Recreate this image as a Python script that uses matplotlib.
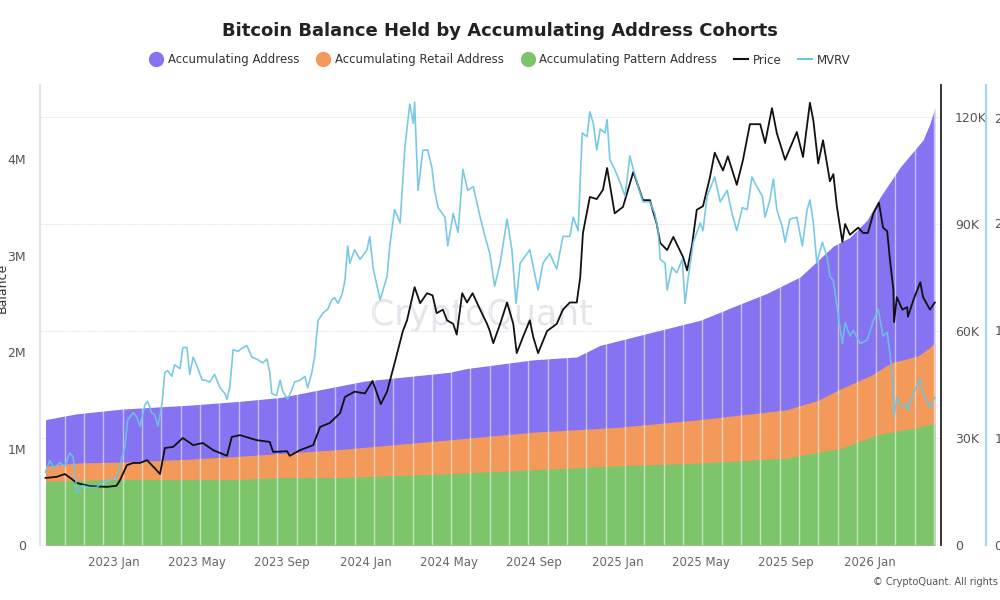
import pandas as pd
import matplotlib.pyplot as plt
import matplotlib.dates as mdates
from matplotlib.lines import Line2D

# Veriler: gün = 2023-01-01'den itibaren gün sayısı
base = pd.Timestamp("2023-01-01")

acc_days = [-99, -54, 13, 110, 183, 242, 328, 364, 486, 512, 608, 671, 705, 777, 850,
            898, 947, 995, 1043, 1067, 1092, 1111, 1140, 1173, 1183, 1190]
acc_bal = [1.30, 1.36, 1.41, 1.45, 1.49, 1.53, 1.65, 1.70, 1.79, 1.83, 1.92, 1.95, 2.07, 2.20, 2.33,
           2.47, 2.61, 2.78, 3.10, 3.19, 3.37, 3.61, 3.92, 4.20, 4.37, 4.53]

retail_days = [-99, -54, 13, 110, 183, 328, 486, 608, 731, 850, 974, 1021, 1054, 1098, 1127, 1166, 1183, 1190]
retail_bal = [0.82, 0.85, 0.86, 0.89, 0.92, 0.99, 1.09, 1.17, 1.22, 1.30, 1.40, 1.50, 1.62, 1.76, 1.89, 1.96, 2.05, 2.10]

pattern_days = [-99, 13, 183, 241, 328, 486, 608, 731, 850, 974, 1053, 1098, 1118, 1166, 1190]
pattern_bal = [0.66, 0.68, 0.68, 0.70, 0.70, 0.74, 0.78, 0.82, 0.85, 0.90, 1.00, 1.12, 1.16, 1.22, 1.26]

price_days = [-99, -83, -71, -59, -54, -35, -10, 4, 9, 19, 28, 38, 48, 59, 67, 74, 86, 100, 115, 129,
              144, 164, 171, 183, 207, 226, 231, 251, 255, 270, 289, 299, 313, 328, 335, 349, 364, 375,
              387, 396, 407, 419, 425, 436, 444, 454, 462, 468, 477, 483, 492, 497, 505, 512, 520, 531,
              541, 545, 550, 560, 570, 579, 584, 593, 603, 608, 615, 628, 642, 651, 661, 671, 676, 680,
              690, 700, 709, 715, 726, 738, 753, 767, 777, 787, 792, 802, 811, 825, 831, 838, 845, 854,
              864, 871, 883, 890, 903, 912, 922, 937, 944, 954, 961, 973, 990, 999, 1009, 1014, 1021,
              1028, 1038, 1043, 1048, 1056, 1060, 1067, 1079, 1086, 1093, 1101, 1109, 1115, 1121, 1125,
              1130, 1131, 1135, 1143, 1150, 1151, 1159, 1169, 1173, 1183, 1190]
price = [18.8, 19.1, 19.9, 18.2, 17.4, 16.5, 16.3, 16.6, 18.2, 22.4, 23.0, 23.0, 23.8, 21.6, 19.9, 27.2,
         27.5, 30.0, 28.0, 28.6, 26.6, 25.0, 30.3, 30.8, 29.4, 28.9, 26.1, 26.3, 25.0, 26.6, 28.0, 33.1,
         34.2, 37.0, 41.5, 43.0, 42.5, 46.0, 39.5, 43.0, 51.0, 60.0, 63.0, 72.3, 67.8, 70.6, 70.0, 65.0,
         66.0, 63.0, 62.0, 59.0, 70.6, 68.0, 70.6, 66.0, 62.0, 60.0, 56.6, 62.0, 68.0, 62.0, 53.8, 58.3,
         63.0, 58.3, 53.8, 60.0, 62.0, 66.0, 68.0, 68.0, 75.0, 87.5, 97.6, 97.0, 99.6, 105.7, 93.0, 94.8,
         104.6, 96.7, 96.7, 90.0, 84.7, 82.7, 86.4, 80.8, 77.0, 84.0, 94.0, 95.0, 103.0, 110.0, 105.0,
         109.0, 101.0, 108.0, 118.0, 118.0, 112.7, 122.5, 115.5, 108.0, 115.8, 108.8, 124.0, 119.0, 107.0,
         113.5, 102.0, 104.0, 95.0, 85.0, 90.0, 87.0, 89.0, 87.5, 87.5, 93.0, 96.0, 89.0, 88.0, 80.0,
         71.5, 62.5, 69.5, 66.0, 66.7, 64.0, 68.7, 73.7, 69.5, 66.0, 68.0]

mvrv_days = [-99, -93, -86, -78, -71, -64, -59, -55, -54, -45, -35, -25, -16, -3, 4, 9, 16, 20, 28, 33,
             38, 45, 49, 55, 59, 64, 70, 74, 78, 84, 88, 96, 100, 106, 110, 115, 122, 128, 132, 139, 146,
             154, 161, 164, 168, 173, 180, 187, 193, 200, 207, 216, 222, 226, 229, 236, 241, 245, 252,
             258, 262, 270, 277, 281, 287, 291, 296, 303, 310, 316, 320, 325, 331, 335, 339, 342, 349,
             357, 367, 371, 376, 386, 396, 400, 407, 415, 422, 429, 434, 436, 441, 448, 455, 461, 465,
             470, 480, 484, 492, 499, 506, 513, 521, 531, 538, 545, 552, 560, 570, 577, 583, 589, 603,
             608, 615, 622, 632, 642, 651, 661, 666, 673, 679, 686, 690, 695, 700, 705, 712, 715, 719,
             726, 734, 741, 748, 753, 760, 767, 777, 784, 789, 792, 799, 802, 809, 816, 824, 828, 832,
             840, 850, 854, 860, 871, 879, 889, 896, 903, 911, 918, 925, 932, 940, 944, 951, 956, 961,
             969, 973, 980, 990, 998, 1005, 1009, 1014, 1019, 1027, 1034, 1038, 1043, 1048, 1056, 1060,
             1067, 1072, 1082, 1092, 1101, 1108, 1115, 1121, 1125, 1128, 1130, 1131, 1135, 1143, 1150,
             1151, 1159, 1169, 1173, 1183, 1190]
mvrv = [0.85, 0.91, 0.87, 0.90, 0.88, 0.95, 0.93, 0.81, 0.74, 0.78, 0.77, 0.77, 0.80, 0.81, 0.82, 0.89,
        0.98, 1.12, 1.16, 1.14, 1.09, 1.20, 1.22, 1.16, 1.15, 1.09, 1.21, 1.37, 1.38, 1.35, 1.41, 1.39,
        1.50, 1.50, 1.36, 1.45, 1.39, 1.33, 1.33, 1.32, 1.36, 1.29, 1.26, 1.23, 1.29, 1.49, 1.48, 1.50,
        1.51, 1.45, 1.44, 1.42, 1.44, 1.37, 1.26, 1.25, 1.33, 1.27, 1.23, 1.28, 1.32, 1.33, 1.35, 1.29,
        1.37, 1.45, 1.64, 1.68, 1.70, 1.75, 1.76, 1.73, 1.78, 1.85, 2.03, 1.94, 2.01, 1.96, 2.01, 2.08,
        1.91, 1.75, 1.87, 2.03, 2.22, 2.15, 2.55, 2.77, 2.67, 2.78, 2.32, 2.53, 2.53, 2.44, 2.32, 2.23,
        2.18, 2.03, 2.20, 2.10, 2.43, 2.32, 2.34, 2.18, 2.08, 1.99, 1.82, 1.94, 2.17, 2.01, 1.73, 1.94,
        2.01, 1.92, 1.80, 1.94, 1.99, 1.91, 2.08, 2.08, 2.18, 2.11, 2.62, 2.60, 2.73, 2.67, 2.53, 2.64,
        2.62, 2.69, 2.48, 2.43, 2.36, 2.29, 2.50, 2.43, 2.34, 2.26, 2.26, 2.20, 2.11, 1.96, 1.94, 1.80,
        1.92, 1.89, 1.96, 1.73, 1.85, 2.05, 2.15, 2.11, 2.29, 2.39, 2.26, 2.32, 2.20, 2.11, 2.23, 2.22,
        2.39, 2.34, 2.29, 2.18, 2.27, 2.38, 2.22, 2.13, 2.05, 2.17, 2.18, 2.03, 2.22, 2.27, 2.15, 1.94,
        2.05, 1.97, 1.87, 1.85, 1.72, 1.52, 1.63, 1.56, 1.59, 1.52, 1.54, 1.64, 1.70, 1.56, 1.58, 1.47,
        1.37, 1.24, 1.14, 1.24, 1.19, 1.21, 1.17, 1.26, 1.34, 1.26, 1.19, 1.24]

balance_ticks = [0, 1e6, 2e6, 3e6, 4e6]
balance_labels = ["0", "1M", "2M", "3M", "4M"]
price_ticks = [0, 30000, 60000, 90000, 120000]
price_labels = ["0", "30K", "60K", "90K", "120K"]
mvrv_ticks = [0.47, 1.03, 1.59, 2.15, 2.70]


def to_dates(days):
    return base + pd.to_timedelta(days, unit="D")


purple = "#8573f1"
orange = "#f39a5b"
green = "#7cc56b"
black = "#111111"
sky = "#6cc4e2"

bal_max = 4.77e6
price_max = 129000

fig = plt.figure(figsize=(10, 6), dpi=100)
ax = fig.add_axes([0.04, 0.0917, 0.901, 0.7667])
ax2 = ax.twinx()
ax3 = ax.twinx()

# Bakiye alanları (her biri sıfırdan)
ax.fill_between(to_dates(acc_days), 0, [v * 1e6 for v in acc_bal], color=purple, lw=0, zorder=2)
ax.fill_between(to_dates(retail_days), 0, [v * 1e6 for v in retail_bal], color=orange, lw=0, zorder=3)
ax.fill_between(to_dates(pattern_days), 0, [v * 1e6 for v in pattern_bal], color=green, lw=0, zorder=4)
for d in pd.date_range(to_dates([-99])[0], to_dates([1190])[0], freq="28D")[1:]:
    ax.axvline(d, color="white", lw=1, alpha=0.55, zorder=5)

ax.set_ylim(0, bal_max)
ax.set_yticks(balance_ticks)
ax.set_yticklabels(balance_labels)
# Izgara fiyat eksenine hizalı, çubukların arkasında
ax.set_yticks([t * bal_max / price_max for t in price_ticks[1:]], minor=True)
ax.grid(axis="y", which="minor", color="#eeeeee", lw=0.8, zorder=0)
ax.set_axisbelow(True)
ax.set_xlim(to_dates([-107])[0], to_dates([1199])[0])
ax.xaxis.set_major_locator(mdates.MonthLocator(bymonth=[1, 5, 9]))
ax.xaxis.set_major_formatter(mdates.DateFormatter("%Y %b"))

# Fiyat
ax2.plot(to_dates(price_days), [p * 1000 for p in price], color=black, lw=1.3, zorder=3)
ax2.set_ylim(0, price_max)
ax2.set_yticks(price_ticks)
ax2.set_yticklabels(price_labels)

# MVRV
ax3.plot(to_dates(mvrv_days), mvrv, color=sky, lw=1.2, alpha=0.9)
ax3.set_ylim(0.47, 2.87)
ax3.set_yticks(mvrv_ticks)
ax3.set_yticklabels([f"{t:.2f}" for t in mvrv_ticks])
ax3.spines["right"].set_position(("axes", 1.05))

for a in (ax, ax2, ax3):
    for s in ("top", "bottom", "left", "right"):
        a.spines[s].set_visible(False)
    a.tick_params(which="both", length=0, labelsize=9, labelcolor="#555555")
ax.spines["left"].set_visible(True)
ax.spines["left"].set_color("#e3e3ea")
ax.spines["left"].set_linewidth(1.5)
ax.tick_params(axis="y", pad=10)
ax.tick_params(axis="x", pad=8, labelsize=8.5, labelcolor="#666666")
ax2.spines["right"].set_visible(True)
ax2.spines["right"].set_color("#222222")
ax2.spines["right"].set_linewidth(1.3)
ax2.tick_params(axis="y", pad=10)
ax3.spines["right"].set_visible(True)
ax3.spines["right"].set_color("#9fdaee")
ax3.spines["right"].set_linewidth(1.6)
ax3.tick_params(axis="y", pad=6)

ax.text(0.49, 0.5, "CryptoQuant", transform=ax.transAxes, fontsize=25, color="#e4e4ec",
        ha="center", va="center", zorder=1)

fig.text(0.002, 0.52, "Balance", rotation=90, ha="center", va="center", fontsize=9, color="#333333")
fig.text(0.5, 0.948, "Bitcoin Balance Held by Accumulating Address Cohorts",
         ha="center", va="center", fontsize=13, fontweight="bold", color="#222222")
fig.text(0.873, 0.03, "© CryptoQuant. All rights reserved", fontsize=7, color="#555555",
         ha="left", va="center")

handles = [
    Line2D([], [], marker="o", ls="none", markersize=10, color=purple),
    Line2D([], [], marker="o", ls="none", markersize=10, color=orange),
    Line2D([], [], marker="o", ls="none", markersize=10, color=green),
    Line2D([], [], color=black, lw=1.5),
    Line2D([], [], color=sky, lw=1.5),
]
labels = ["Accumulating Address", "Accumulating Retail Address", "Accumulating Pattern Address", "Price", "MVRV"]
fig.legend(handles, labels, loc="center", bbox_to_anchor=(0.5, 0.9), ncol=5, frameon=False,
           fontsize=8.5, handlelength=1.2, handletextpad=0.4, columnspacing=1.4, labelcolor="#333333")

plt.savefig("out.png", dpi=100)
